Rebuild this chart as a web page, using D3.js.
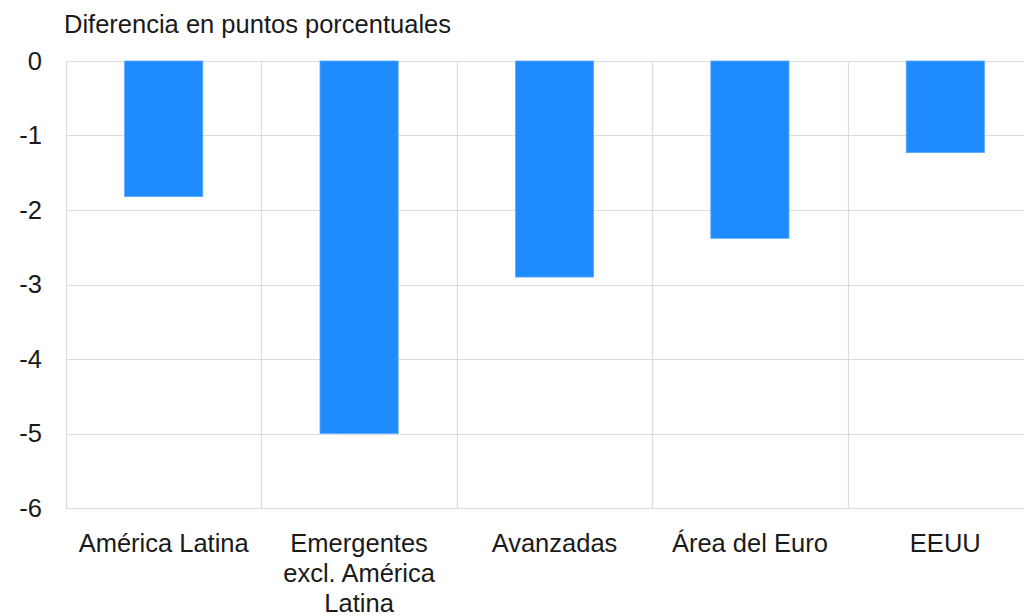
<!DOCTYPE html>
<html>
<head>
<meta charset="utf-8">
<script src="https://cdn.jsdelivr.net/npm/d3@7"></script>
<style>
  html, body { margin: 0; padding: 0; background: #fff; }
  svg { display: block; font-family: "Liberation Sans", Arial, sans-serif; }
</style>
</head>
<body>
<svg width="1024" height="616"></svg>
<script>
// Chart data
var categories = ["América Latina", "Emergentes\nexcl. América\nLatina", "Avanzadas", "Área del Euro", "EEUU"];
var values = [-1.82, -5.0, -2.9, -2.38, -1.23];
var yTicks = [0, -1, -2, -3, -4, -5, -6];
var yTitle = "Diferencia en puntos porcentuales";

var svg = d3.select("svg"),
    width = +svg.attr("width"),
    height = +svg.attr("height");

// Plot area (right side runs past the window edge like the original)
var plotLeft = 66, plotRight = 1043, plotTop = 61, plotBottom = 508;

var x = d3.scaleBand()
    .domain(categories)
    .range([plotLeft, plotRight])
    .padding(0);

var y = d3.scaleLinear()
    .domain([-6, 0])
    .range([plotBottom, plotTop]);

var gridColor = "#dcdcdc";

// Horizontal grid lines
svg.append("g")
  .selectAll("line")
  .data(yTicks)
  .enter().append("line")
    .attr("x1", plotLeft)
    .attr("x2", plotRight)
    .attr("y1", function(d) { return Math.round(y(d)) + 0.5; })
    .attr("y2", function(d) { return Math.round(y(d)) + 0.5; })
    .attr("stroke", gridColor)
    .attr("stroke-width", 1.2);

// Vertical grid lines at category boundaries
svg.append("g")
  .selectAll("line")
  .data(categories)
  .enter().append("line")
    .attr("x1", function(d) { return Math.round(x(d)) + 0.5; })
    .attr("x2", function(d) { return Math.round(x(d)) + 0.5; })
    .attr("y1", plotTop)
    .attr("y2", plotBottom)
    .attr("stroke", gridColor)
    .attr("stroke-width", 1.2);

// Bars
var barFrac = 0.4;
svg.append("g")
  .selectAll("rect")
  .data(values)
  .enter().append("rect")
    .attr("x", function(d, i) { return x(categories[i]) + x.bandwidth() * (1 - barFrac) / 2; })
    .attr("width", x.bandwidth() * barFrac)
    .attr("y", function(d) { return y(Math.max(0, d)); })
    .attr("height", function(d) { return Math.abs(y(d) - y(0)); })
    .attr("fill", "#1e8bff")
    .attr("stroke", "#5aa9ff")
    .attr("stroke-width", 0.8);

// Y axis labels
var yAxis = d3.axisLeft(y)
    .tickValues(yTicks)
    .tickFormat(function(d) { return d === 0 ? "0" : "-" + Math.abs(d); })
    .tickSize(0)
    .tickPadding(24);

var gy = svg.append("g")
    .attr("transform", "translate(" + plotLeft + ",0)")
    .call(yAxis);
gy.select(".domain").remove();
gy.selectAll("text")
    .attr("font-size", "25.5px")
    .attr("font-family", "Liberation Sans, Arial, sans-serif")
    .attr("fill", "#1a1a1a");

// X axis labels (multi-line)
var xl = svg.append("g")
  .selectAll("text")
  .data(categories)
  .enter().append("text")
    .attr("x", function(d) { return x(d) + x.bandwidth() / 2; })
    .attr("y", 552)
    .attr("text-anchor", "middle")
    .attr("font-size", "25.5px")
    .attr("fill", "#1a1a1a");

xl.selectAll("tspan")
  .data(function(d) { return d.split("\n"); })
  .enter().append("tspan")
    .attr("x", function() { return d3.select(this.parentNode).attr("x"); })
    .attr("dy", function(d, i) { return i === 0 ? 0 : 30; })
    .text(function(d) { return d; });

// Axis title
svg.append("text")
    .attr("x", 64)
    .attr("y", 33)
    .attr("font-size", "25.5px")
    .attr("fill", "#1a1a1a")
    .text(yTitle);
</script>
</body>
</html>
